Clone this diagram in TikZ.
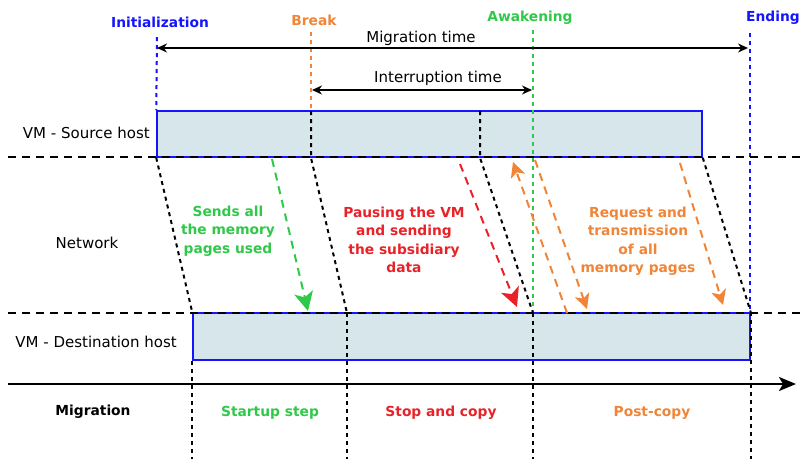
\documentclass[tikz,border=0pt]{standalone}
\usepackage{fontspec}
\setmainfont{DejaVu Sans}
\usetikzlibrary{arrows.meta,positioning,calc}
\definecolor{vmblue}{RGB}{20,20,255}
\definecolor{brkorange}{RGB}{240,133,56}
\definecolor{wakegreen}{RGB}{48,200,72}
\definecolor{stopred}{RGB}{232,34,40}
\definecolor{boxfill}{RGB}{214,230,235}

\begin{document}
\begin{tikzpicture}[x=1pt,y=-1pt,
   lbl/.style={font=\fontsize{15}{18.5}\selectfont, inner sep=0pt},
   tag/.style={lbl, font=\fontsize{13.8}{18.5}\selectfont\bfseries},
   note/.style={tag, align=center},
   host/.style={draw=vmblue, line width=1.5pt, fill=boxfill, minimum height=46pt, inner sep=0pt},
   lane/.style={black, line width=1.6pt, dash pattern=on 8pt off 6pt},
   tick/.style={line width=2pt, dash pattern=on 4pt off 4pt},
   span/.style={{Stealth[length=10pt,width=9pt]}-{Stealth[length=10pt,width=9pt]}, line width=1.3pt},
   msg/.style={line width=2pt, dash pattern=on 8pt off 6pt, -{Stealth[length=19pt,width=19pt,inset=5pt]}},
   smsg/.style={msg, -{Stealth[length=15pt,width=15pt,inset=4pt]}}]
   \useasboundingbox (0,0) rectangle (801,459);

   % hosts
   \node[host, minimum width=545pt] (src) at (429.5,134) {};
   \node[host, minimum width=557pt, minimum height=47pt] (dst) at (471.5,336.5) {};

   % row names
   \node[lbl, anchor=east] (srcname) at (150,133) {VM - Source host};
   \node[lbl] (net) at (87,243) {Network};
   \node[lbl, anchor=east] (dstname) at (177,342) {VM - Destination host};
   \node[tag] (mig) at (93,412) {Migration};

   % events
   \path (160,22)  node[tag, text=vmblue]    (init) {Initialization}
         (314,20)  node[tag, text=brkorange] (brk)  {Break}
         (530,18)  node[tag, text=wakegreen] (wake) {Awakening}
         (773,18)  node[tag, text=vmblue]    (endg) {Ending};
   \coordinate (initTop) at (157,37);
   \coordinate (brkTop)  at (311,32);
   \coordinate (wakeTop) at (533,30);
   \coordinate (endTop)  at (750,33);
   \draw[vmblue, tick]    (initTop) -- (src.north west);
   \draw[brkorange, tick] (brkTop) -- (brkTop |- src.north);
   \draw[wakegreen, tick] (wakeTop) -- (wakeTop |- dst.north);
   \draw[vmblue, tick]    (endTop) -- (endTop |- dst.north);

   % durations
   \coordinate (migL) at (157,48);
   \coordinate (migR) at (748,48);
   \coordinate (intL) at (312,90);
   \coordinate (intR) at (532,90);
   \draw[span] (migL) -- (migR);
   \draw[span] (intL) -- (intR);
   \node[lbl] (migT) at (421,38) {Migration time};
   \node[lbl] (intT) at (438,78) {Interruption time};

   % lanes
   \coordinate (laneSW) at (8,157);
   \coordinate (laneSE) at (801,157);
   \coordinate (laneDW) at (8,313);
   \coordinate (laneDE) at (801,313);
   \draw[lane] (laneSW) -- (laneSE);
   \draw[lane] (laneDW) -- (laneDE);

   % phase borders
   \coordinate (cutA) at (311,111);
   \coordinate (cutB) at (480,111);
   \coordinate (cutA') at (347,313);
   \coordinate (cutB') at (533,313);
   \draw[tick] (cutA) -- (cutA |- src.south) -- (cutA');
   \draw[tick] (cutB) -- (cutB |- src.south) -- (cutB');
   \draw[tick] (src.south west) -- (dst.north west);
   \draw[tick] (src.south east) -- (dst.north east);
   \draw[tick] (dst.south west) -- (dst.south west |- 0,459);
   \draw[tick] (cutA') -- (cutA' |- 0,459);
   \draw[tick] (cutB') -- (cutB' |- 0,459);
   \draw[tick] (dst.north east) -- (dst.north east |- 0,459);

   % timeline
   \coordinate (axW) at (8,384);
   \coordinate (axE) at (796,384);
   \draw[line width=2.5pt, -{Stealth[length=17pt,width=14pt,inset=4pt]}] (axW) -- (axE);
   \path (270,413) node[tag, text=wakegreen] (ph1) {Startup step}
         (441,413) node[tag, text=stopred]   (ph2) {Stop and copy}
         (652,413) node[tag, text=brkorange] (ph3) {Post-copy};

   % messages
   \coordinate (g1) at (272,159);
   \coordinate (g2) at (308,311);
   \coordinate (r1) at (460,164);
   \coordinate (r2) at (517,307);
   \coordinate (o1) at (567,313);
   \coordinate (o2) at (513,162);
   \coordinate (o3) at (535,160);
   \coordinate (o4) at (587,309);
   \coordinate (o5) at (680,163);
   \coordinate (o6) at (723,305);
   \draw[msg, wakegreen] (g1) -- (g2);
   \draw[msg, stopred] (r1) -- (r2);
   \draw[smsg, brkorange] (o1) -- (o2);
   \draw[smsg, brkorange] (o3) -- (o4);
   \draw[smsg, brkorange] (o5) -- (o6);
   \node[note, text=wakegreen] (gtxt) at (228,231) {Sends all\\the memory\\pages used};
   \node[note, text=stopred]   (rtxt) at (404,240) {Pausing the VM\\and sending\\the subsidiary\\data};
   \node[note, text=brkorange] (otxt) at (638,241) {Request and\\transmission\\of all\\memory pages};
\end{tikzpicture}
\end{document}
